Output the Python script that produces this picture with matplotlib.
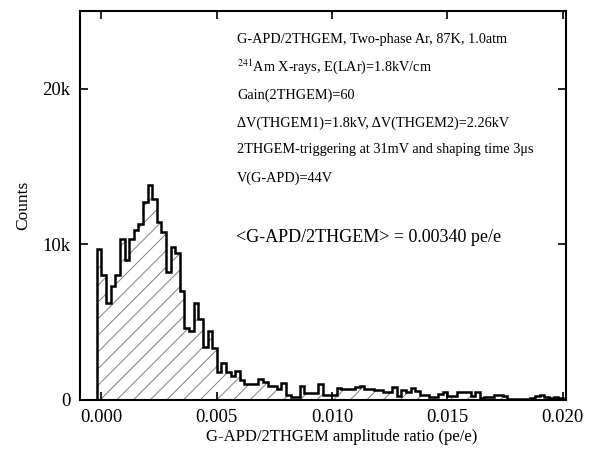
import numpy as np
import matplotlib
matplotlib.use("Agg")
import matplotlib.pyplot as plt

plt.rcParams['font.family'] = ['Liberation Serif', 'DejaVu Serif']
plt.rcParams['mathtext.fontset'] = 'stix'
plt.rcParams['hatch.linewidth'] = 0.7

# histogram: G-APD/2THGEM amplitude ratio, bin width 0.0002 starting at -0.0002
bin_start = -0.0002
bin_width = 0.0002
counts = [
    9700, 8000, 6200, 7300, 8000, 10300, 9000, 10300, 10900, 11300,
    12700, 13800, 12900, 11400, 10800, 8200, 9800, 9450, 7000, 4600,
    4400, 6200, 5200, 3400, 4400, 3300, 1750, 2350, 1800, 1500,
    1850, 1270, 970, 970, 970, 1330, 1120, 900, 900, 650,
    1030, 260, 150, 150, 880, 450, 450, 450, 1000, 260,
    260, 260, 760, 650, 650, 650, 800, 860, 650, 650,
    580, 580, 500, 470, 800, 250, 580, 500, 750, 535,
    320, 320, 190, 190, 350, 470, 200, 250, 470, 470,
    470, 250, 470, 110, 150, 150, 260, 260, 200, 30,
    30, 30, 30, 30, 100, 200, 260, 150, 100, 150,
    100,
]
edges = bin_start + bin_width * np.arange(len(counts) + 1)

x_ticks = [0.000, 0.005, 0.010, 0.015, 0.020]
x_tick_labels = ["0.000", "0.005", "0.010", "0.015", "0.020"]
y_ticks = [0, 10000, 20000]
y_tick_labels = ["0", "10k", "20k"]

info_lines = [
    "G-APD/2THGEM, Two-phase Ar, 87K, 1.0atm",
    r"$^{241}$Am X-rays, E(LAr)=1.8kV/cm",
    "Gain(2THGEM)=60",
    "\u0394V(THGEM1)=1.8kV, \u0394V(THGEM2)=2.26kV",
    "2THGEM-triggering at 31mV and shaping time 3\u03bcs",
    "V(G-APD)=44V",
]
mean_label = "<G-APD/2THGEM> = 0.00340 pe/e"

fig = plt.figure(figsize=(5.89, 4.58), dpi=100)
W, H = 589, 458
ax = fig.add_axes([80 / W, (H - 399.5) / H, (566 - 80) / W, (399.5 - 11) / H])

ax.stairs(counts, edges, fill=True, facecolor='white', edgecolor='#808080',
          hatch='//', linewidth=0)
ax.stairs(counts, edges, baseline=0, color='black', linewidth=1.8)

ax.set_xlim(-0.00093, 0.02014)
ax.set_ylim(0, 25000)
ax.set_xticks(x_ticks)
ax.set_xticklabels(x_tick_labels)
ax.set_yticks(y_ticks)
ax.set_yticklabels(y_tick_labels)
ax.tick_params(direction='in', length=6, width=1.2, labelsize=13.5,
               top=True, right=True, pad=7)
for s in ax.spines.values():
    s.set_linewidth(1.5)

ax.set_xlabel("G-APD/2THGEM amplitude ratio (pe/e)", fontsize=12)
ax.xaxis.set_label_coords((342 - 80) / (566 - 80), -(437 - 399.5) / (399.5 - 11))
ax.xaxis.label.set_va('center')
ax.set_ylabel("Counts", fontsize=12.5, labelpad=8)

ys = [40, 67, 95, 123, 150, 178]
for line, yp in zip(info_lines, ys):
    fig.text(237 / W, 1 - yp / H, line, fontsize=10.3, ha='left', va='center')
fig.text(236 / W, 1 - 237 / H, mean_label, fontsize=13, ha='left', va='center')

fig.savefig("out.png", dpi=100)
